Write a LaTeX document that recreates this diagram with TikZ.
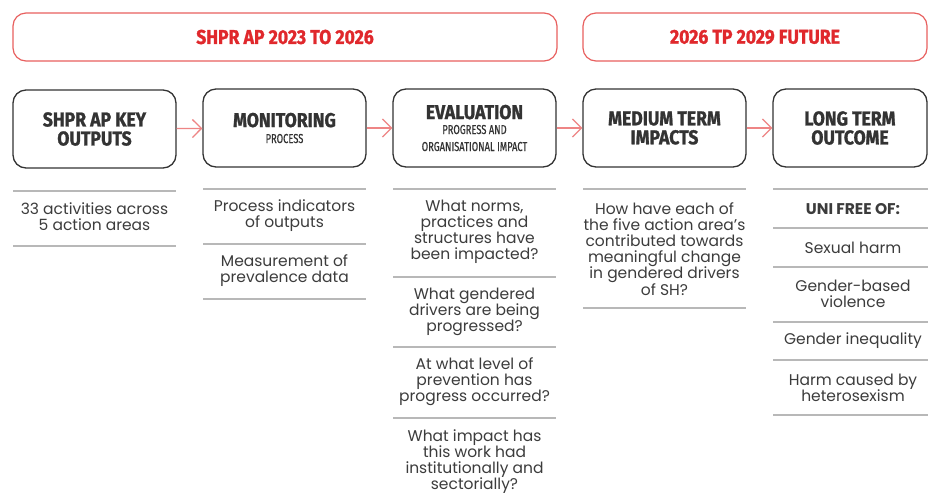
\documentclass[tikz,border=0pt]{standalone}
\usepackage{fontspec}
\setmainfont{Poppins}
\newfontfamily\headfont[FakeStretch=0.88, BoldFeatures={FakeBold=1.2}]{Fira Sans}
\newfontfamily\subfont[FakeStretch=0.72, FakeBold=0.5]{Fira Sans}
\usetikzlibrary{arrows.meta}
\definecolor{bannerred}{HTML}{E8605F}
\definecolor{titlered}{HTML}{E0282C}
\definecolor{arrowred}{HTML}{EE8585}
\definecolor{ink}{HTML}{333333}
\definecolor{cellink}{HTML}{3C3C3C}
\definecolor{rulegray}{HTML}{B8B8B8}
\newcommand\subline{\subfont\mdseries\fontsize{13}{14}\selectfont}
\tikzset{
  banner/.style={draw=bannerred, line width=1.2pt, rounded corners=13pt,
    minimum height=48pt, inner sep=0pt,
    font=\headfont\bfseries\fontsize{20}{22}\selectfont, text=titlered},
  stagebox/.style={draw=ink, line width=1.3pt, rounded corners=13pt,
    minimum height=78pt, minimum width=163pt, inner sep=0pt, align=center,
    font=\headfont\bfseries\fontsize{20}{19}\selectfont, text=ink},
  flow/.style={draw=arrowred, line width=1.3pt,
    -{Straight Barb[length=9pt,width=18pt,line width=1.3pt]}},
  divider/.style={draw=rulegray, line width=1.1pt},
  cell/.style={align=center, inner sep=0pt, text=cellink,
    font=\fontsize{15.5}{16}\selectfont}
}
\begin{document}
\begin{tikzpicture}[x=1pt,y=-1pt]
\useasboundingbox (0,0) rectangle (928,499);
\fill[white] (0,0) rectangle (928,499);

% period banners
\node[banner, minimum width=544pt] (ban1) at (285,37) {SHPR AP 2023 TO 2026};
\node[banner, minimum width=344pt] (ban2) at (755,37) {2026 TP 2029 FUTURE};

% stage boxes
\node[stagebox] (b1) at (94.5,129) {SHPR AP KEY\\OUTPUTS};
\node[stagebox] (b2) at (284.5,128) {MONITORING\\[-3pt]\subline PROCESS};
\node[stagebox] (b3) at (474.5,128) {EVALUATION\\[-4pt]\subline PROGRESS AND\\[-2pt]\subline ORGANISATIONAL IMPACT};
\node[stagebox] (b4) at (664.5,128) {MEDIUM TERM\\IMPACTS};
\node[stagebox, minimum width=154pt] (b5) at (850,128) {LONG TERM\\OUTCOME};

% flow between stages
\draw[flow] (b1) -- (b2);
\draw[flow] (b2) -- (b3);
\draw[flow] (b3) -- (b4);
\draw[flow] (b4) -- (b5);

% column 1
\draw[divider] (13,191) -- (176,191);
\draw[divider] (13,246) -- (176,246);
\node[cell] (c11) at (94.5,217) {33 activities across\\5 action areas};

% column 2
\draw[divider] (203,189) -- (366,189);
\draw[divider] (203,244) -- (366,244);
\draw[divider] (203,299) -- (366,299);
\node[cell] (c21) at (284.5,216) {Process indicators\\of outputs};
\node[cell] (c22) at (284.5,271) {Measurement of\\prevalence data};

% column 3
\draw[divider] (393,189) -- (556,189);
\draw[divider] (393,277) -- (556,277);
\draw[divider] (393,347) -- (556,347);
\draw[divider] (393,418) -- (556,418);
\node[cell] (c31) at (474.5,232) {What norms,\\practices and\\structures have\\been impacted?};
\node[cell] (c32) at (474.5,312) {What gendered\\drivers are being\\progressed?};
\node[cell] (c33) at (474.5,382) {At what level of\\prevention has\\progress occurred?};
\node[cell] (c34) at (474.5,462) {What impact has\\this work had\\institutionally and\\sectorially?};

% column 4
\draw[divider] (583,189) -- (746,189);
\draw[divider] (583,308) -- (746,308);
\node[cell] (c41) at (664.5,249) {How have each of\\the five action area's\\contributed towards\\meaningful change\\in gendered drivers\\of SH?};

% column 5
\draw[divider] (773,189) -- (928,189);
\draw[divider] (773,228) -- (928,228);
\draw[divider] (773,267) -- (928,267);
\draw[divider] (773,322) -- (928,322);
\draw[divider] (773,360) -- (928,360);
\draw[divider] (773,415) -- (928,415);
\node[cell, font=\bfseries\fontsize{15.5}{16}\selectfont] (c51) at (853,209) {UNI FREE OF:};
\node[cell] (c52) at (853,248) {Sexual harm};
\node[cell] (c53) at (853,294) {Gender-based\\violence};
\node[cell] (c54) at (853,341) {Gender inequality};
\node[cell] (c55) at (853,388) {Harm caused by\\heterosexism};
\end{tikzpicture}
\end{document}
